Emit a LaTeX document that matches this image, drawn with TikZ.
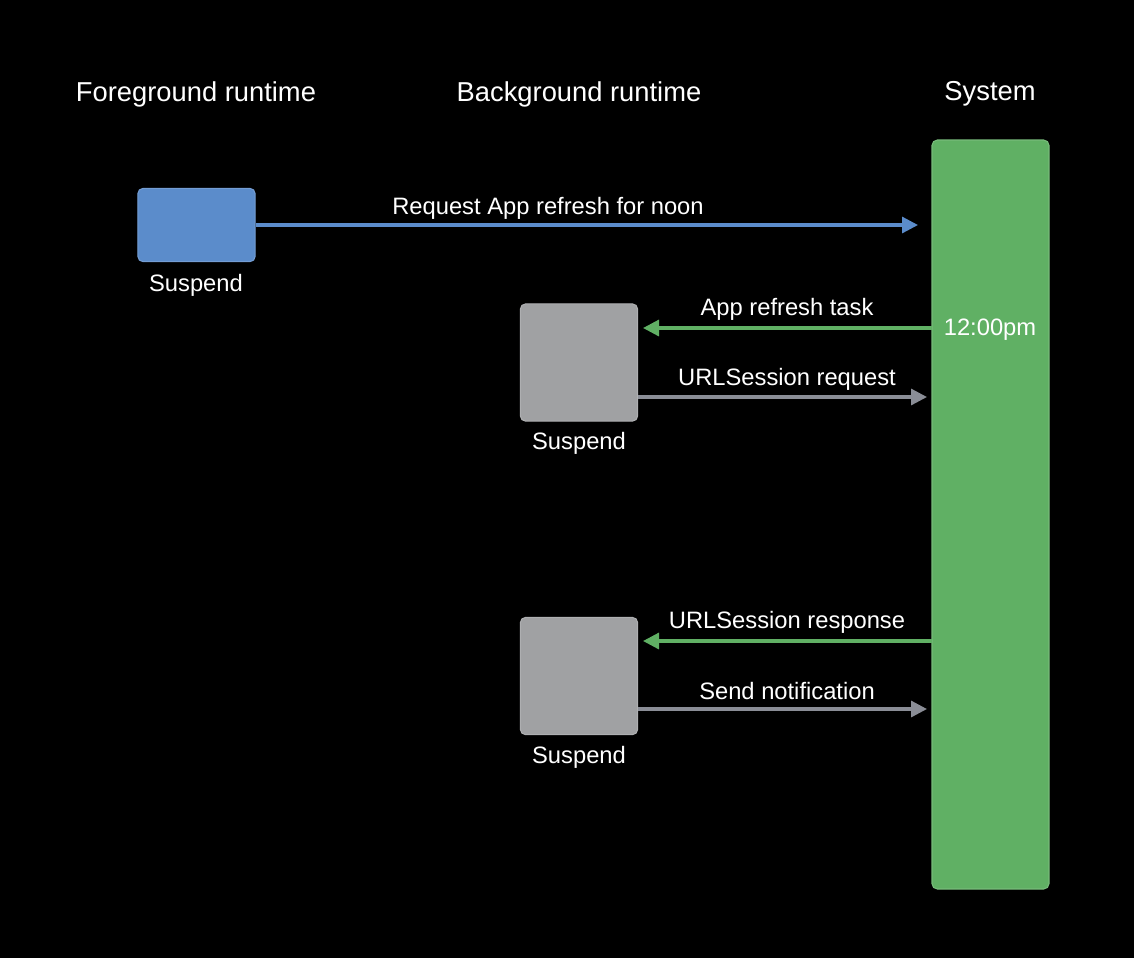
\documentclass[tikz,border=0pt]{standalone}
\usepackage{fontspec}
\setmainfont{Liberation Sans}
\usetikzlibrary{arrows.meta}
\definecolor{bblue}{HTML}{5B8CCB}
\definecolor{sgreen}{HTML}{60B064}
\definecolor{sgray}{HTML}{A0A1A3}
\definecolor{agray}{HTML}{8A8D96}
\begin{document}
\begin{tikzpicture}[x=0.75pt,y=-0.75pt,
  title/.style={text=white,font=\fontsize{20.5}{24}\selectfont},
  lbl/.style={text=white,font=\fontsize{17.8}{21}\selectfont},
  box/.style={draw=#1!85!white,fill=#1,rounded corners=4pt,line width=0.8pt},
  arr/.style={draw=#1,line width=2.4pt,-{Triangle[length=12pt,width=12pt]}}]
\fill[black] (0,0) rectangle (1134,958);
\useasboundingbox (0,0) rectangle (1134,958);
\node[title] (t1) at (196,94) {Foreground runtime};
\node[title] (t2) at (579,94) {Background runtime};
\node[title] (t3) at (990,94) {System};
\draw[box=sgreen] (932,140) rectangle (1049,889);
\coordinate (sys) at (990,500);
\node[lbl] (noon) at (990,330) {12:00pm};
\node[box=bblue,minimum width=88pt,minimum height=55pt] (fg) at (196.5,225) {};
\node[lbl] (s0) at (196,285) {Suspend};
\node[box=sgray,minimum width=88pt,minimum height=88pt] (b1) at (579,362.5) {};
\node[lbl] (s1) at (579,443) {Suspend};
\node[box=sgray,minimum width=88pt,minimum height=88pt] (b2) at (579,676) {};
\node[lbl] (s2) at (579,757) {Suspend};
\coordinate (e1) at (918,225);
\coordinate (g1s) at (932,328); \coordinate (g1e) at (643,328);
\coordinate (r1s) at (638,397); \coordinate (r1e) at (927,397);
\coordinate (g2s) at (932,641); \coordinate (g2e) at (643,641);
\coordinate (r2s) at (638,709); \coordinate (r2e) at (927,709);
\draw[arr=bblue] (fg.east) -- (e1);
\node[lbl] (l0) at (548,208) {Request App refresh for noon};
\draw[arr=sgreen] (g1s) -- (g1e);
\node[lbl] (l1) at (787,309) {App refresh task};
\draw[arr=agray] (r1s) -- (r1e);
\node[lbl] (l2) at (787,379) {URLSession request};
\draw[arr=sgreen] (g2s) -- (g2e);
\node[lbl] (l3) at (787,622) {URLSession response};
\draw[arr=agray] (r2s) -- (r2e);
\node[lbl] (l4) at (787,691) {Send notification};
\end{tikzpicture}
\end{document}
